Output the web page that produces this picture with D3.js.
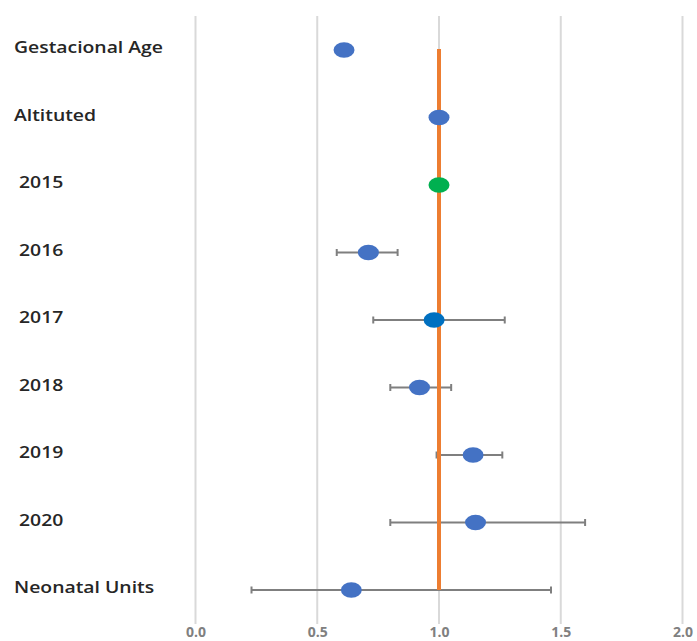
<!DOCTYPE html>
<html>
<head>
<meta charset="utf-8">
<script src="https://cdn.jsdelivr.net/npm/d3@7"></script>
<style>
  html, body { margin: 0; padding: 0; background: #fff; overflow: hidden; }
  svg { display: block; }
</style>
</head>
<body>
<script>
// ---- data ----
const categories = ["Gestacional Age", "Altituted", "2015", "2016", "2017", "2018", "2019", "2020", "Neonatal Units"];
const estimates  = [0.61, 1.00, 1.00, 0.71, 0.98, 0.92, 1.14, 1.15, 0.64];
const lowerCI    = [null, null, null, 0.58, 0.73, 0.80, 0.99, 0.80, 0.23];
const upperCI    = [null, null, null, 0.83, 1.27, 1.05, 1.26, 1.60, 1.46];
const pointColorKey = ["base", "base", "ref", "base", "dark", "base", "base", "base", "base"];
const xTicks = [0, 0.5, 1.0, 1.5, 2.0];
const xTickLabels = ["0.0", "0.5", "1.0", "1.5", "2.0"];
const referenceValue = 1.0;

// ---- layout ----
const W = 697, H = 641;
const colors = { base: "#4472C4", ref: "#00B050", dark: "#0070C0" };

const svg = d3.select("body").append("svg").attr("width", W).attr("height", H);

const x = d3.scaleLinear().domain([0, 2]).range([195.5, 682.5]);
const y = d3.scalePoint().domain(categories).range([50, 590]);

// gridlines
svg.append("g").selectAll("line").data(xTicks).join("line")
  .attr("x1", d => x(d)).attr("x2", d => x(d))
  .attr("y1", 16).attr("y2", 624)
  .attr("stroke", "#d9d9d9").attr("stroke-width", 2);

// tick labels
const axis = d3.axisBottom(x).tickValues(xTicks)
  .tickFormat((d, i) => xTickLabels[i]).tickSize(0).tickPadding(0);
const axG = svg.append("g").attr("transform", "translate(0,627)").call(axis);
axG.select(".domain").remove();
axG.selectAll("text")
  .attr("font-family", "'Open Sans', sans-serif")
  .attr("font-size", 14).attr("font-weight", "bold")
  .attr("fill", "#808080").attr("dy", "0.72em");

// rows data
const rows = categories.map((c, i) => ({
  cat: c, est: estimates[i], lo: lowerCI[i], hi: upperCI[i], key: pointColorKey[i]
}));
const withCI = rows.filter(r => r.lo !== null);

// error bars
const eb = svg.append("g").attr("stroke", "#7f7f7f").attr("stroke-width", 2);
eb.selectAll("line.bar").data(withCI).join("line").attr("class", "bar")
  .attr("x1", d => x(d.lo)).attr("x2", d => x(d.hi))
  .attr("y1", d => y(d.cat)).attr("y2", d => y(d.cat));
eb.selectAll("line.capL").data(withCI).join("line").attr("class", "capL")
  .attr("x1", d => x(d.lo)).attr("x2", d => x(d.lo))
  .attr("y1", d => y(d.cat) - 3.5).attr("y2", d => y(d.cat) + 3.5);
eb.selectAll("line.capR").data(withCI).join("line").attr("class", "capR")
  .attr("x1", d => x(d.hi)).attr("x2", d => x(d.hi))
  .attr("y1", d => y(d.cat) - 3.5).attr("y2", d => y(d.cat) + 3.5);

// reference line
svg.append("line")
  .attr("x1", x(referenceValue)).attr("x2", x(referenceValue))
  .attr("y1", y(categories[0]) - 1).attr("y2", y(categories[categories.length - 1]))
  .attr("stroke", "#ED7D31").attr("stroke-width", 4);

// points
svg.append("g").selectAll("ellipse").data(rows).join("ellipse")
  .attr("cx", d => x(d.est)).attr("cy", d => y(d.cat))
  .attr("rx", 10.5).attr("ry", 7.8)
  .attr("fill", d => colors[d.key]);

// category labels
const lab = svg.append("g");
lab.selectAll("text").data(rows).join("text")
  .attr("transform", d => `translate(${/^\d/.test(d.cat) ? 19 : 14},${y(d.cat) + 3}) scale(1.25,1)`)
  .attr("font-family", "'Open Sans', sans-serif")
  .attr("font-size", 15.5).attr("font-weight", 600)
  .attr("fill", "#262626")
  .text(d => d.cat);
</script>
</body>
</html>
